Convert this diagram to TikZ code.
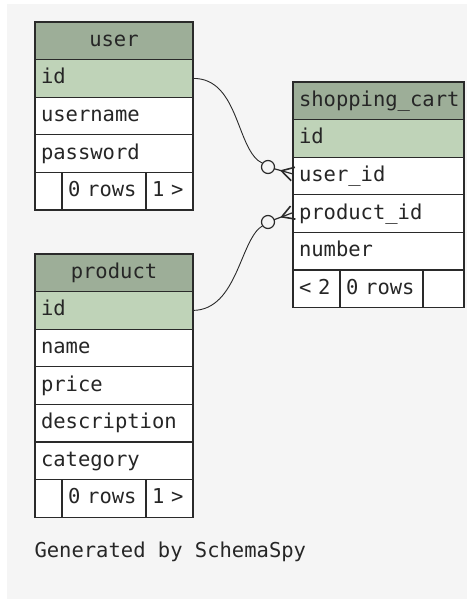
\documentclass[tikz,border=0pt]{standalone}
\usepackage{fontspec}
\setmonofont{DejaVu Sans Mono}
\usepackage{xcolor}
\usetikzlibrary{positioning,calc}

\definecolor{bgcol}{HTML}{F5F5F5}
\definecolor{headcol}{HTML}{9DAE98}
\definecolor{keycol}{HTML}{BFD3B8}
\definecolor{linecol}{HTML}{2A2A2A}

\begin{document}
\begin{tikzpicture}[
    x=1pt, y=-1pt,
    font=\ttfamily\fontsize{20.5}{24}\selectfont,
    cell/.style   = {draw=linecol, line width=1.1pt, fill=white, outer sep=0pt,
                     inner xsep=6pt, inner ysep=0pt, minimum height=37.6pt,
                     text height=15pt, text depth=4pt, text=black!85},
    rowa/.style   = {cell, text width=146pt, align=left},
    rowb/.style   = {cell, text width=159pt, align=left},
    heada/.style  = {rowa, fill=headcol, align=center},
    headb/.style  = {rowb, fill=headcol, align=center},
    foot/.style   = {cell, align=left, text width=#1},
    link/.style   = {draw=linecol, line width=0.9pt},
]
\useasboundingbox (0,0) rectangle (467,599);
\fill[bgcol] (7,4) rectangle (467,599);

%% -- user --------------------------------------------------------------
\node[heada, anchor=north west] (user) at (35,22) {user};
\node[rowa, fill=keycol, below=0pt of user] (user-id) {id};
\node[rowa, below=0pt of user-id] (user-name) {username};
\node[rowa, below=0pt of user-name] (user-pass) {password};
\node[foot=15pt, anchor=north west] (user-f1) at (user-pass.south west) {};
\node[foot=72pt, right=0pt of user-f1] (user-f2) {0 rows};
\node[foot=35pt, right=0pt of user-f2] (user-f3) {1 >};

%% -- product -----------------------------------------------------------
\node[heada, anchor=north west] (prod) at (35,254) {product};
\node[rowa, fill=keycol, below=0pt of prod] (prod-id) {id};
\node[rowa, below=0pt of prod-id] (prod-name) {name};
\node[rowa, below=0pt of prod-name] (prod-price) {price};
\node[rowa, below=0pt of prod-price] (prod-desc) {description};
\node[rowa, below=0pt of prod-desc] (prod-cat) {category};
\node[foot=15pt, anchor=north west] (prod-f1) at (prod-cat.south west) {};
\node[foot=72pt, right=0pt of prod-f1] (prod-f2) {0 rows};
\node[foot=35pt, right=0pt of prod-f2] (prod-f3) {1 >};

%% -- shopping_cart -----------------------------------------------------
\node[headb, anchor=north west] (cart) at (293,82) {shopping\_cart};
\node[rowb, fill=keycol, below=0pt of cart] (cart-id) {id};
\node[rowb, below=0pt of cart-id] (cart-uid) {user\_id};
\node[rowb, below=0pt of cart-uid] (cart-pid) {product\_id};
\node[rowb, below=0pt of cart-pid] (cart-num) {number};
\node[foot=35pt, anchor=north west] (cart-f1) at (cart-num.south west) {< 2};
\node[foot=71pt, right=0pt of cart-f1] (cart-f2) {0 rows};
\node[foot=29pt, right=0pt of cart-f2] (cart-f3) {};

%% -- relations ---------------------------------------------------------
\coordinate (e1) at ($(cart-uid.west)+(0,-2)$);
\coordinate (o1) at (268,167);
\coordinate (e2) at ($(cart-pid.west)+(0,-1)$);
\coordinate (o2) at (268,222);

\draw[link] (user-id.east) .. controls (240,78) and (236,152) .. ($(o1)+(-5,-3.5)$);
\draw[link] (prod-id.east) .. controls (238,310) and (240,238) .. ($(o2)+(-5,3.5)$);

\foreach \e/\o in {e1/o1, e2/o2}{
  \draw[link, line width=1.2pt] (\o) circle (6.5);
  \draw[link, line width=1.2pt] ($(\o)!6.5pt!(\e)$) -- (\e);
  \draw[link, line width=1.6pt] ($(\e)!7pt!90:(\o)$) -- ($(\e)!12pt!(\o)$)
                                -- ($(\e)!7pt!-90:(\o)$);
}

%% -- footer ------------------------------------------------------------
\node[anchor=west, text=black!85] (credit) at (31,552) {Generated by SchemaSpy};
\end{tikzpicture}
\end{document}
